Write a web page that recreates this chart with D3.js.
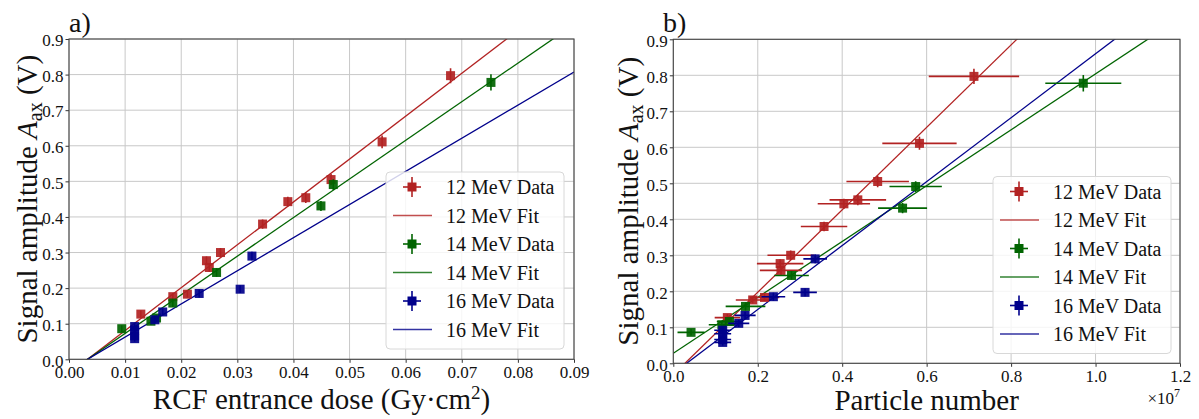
<!DOCTYPE html>
<html>
<head>
<meta charset="utf-8">
<script src="https://cdn.jsdelivr.net/npm/d3@7"></script>
<style>
  html, body { margin: 0; padding: 0; background: #fff; }
  svg { display: block; }
  svg text { font-family: "Liberation Serif", "DejaVu Serif", serif; }
</style>
</head>
<body>
<svg id="chart" width="1199" height="419"></svg>
<script>
// ---------- data ----------
const energies = ["12 MeV", "14 MeV", "16 MeV"];
const colors = ["#b22222", "#006400", "#00008b"];

// signal amplitude (V)
const amp12 = [0.127, 0.176, 0.183, 0.277, 0.258, 0.300, 0.380, 0.443, 0.454, 0.505, 0.611, 0.797];
const amp14 = [0.086, 0.107, 0.116, 0.158, 0.244, 0.431, 0.491, 0.778];
const amp16 = [0.092, 0.082, 0.066, 0.058, 0.111, 0.133, 0.185, 0.197, 0.290];
const ampErr12 = [0.010, 0.010, 0.010, 0.012, 0.012, 0.013, 0.013, 0.014, 0.015, 0.016, 0.018, 0.021];
const ampErr14 = [0.009, 0.010, 0.010, 0.011, 0.012, 0.014, 0.015, 0.023];
const ampErr16 = [0.009, 0.009, 0.009, 0.009, 0.010, 0.010, 0.011, 0.011, 0.012];

// RCF entrance dose (Gy cm^2)
const dose12 = [0.0128, 0.0185, 0.0211, 0.0245, 0.0250, 0.0270, 0.0345, 0.0390, 0.0422, 0.0467, 0.0558, 0.0680];
const dose14 = [0.0094, 0.0146, 0.0156, 0.0185, 0.0263, 0.0449, 0.0471, 0.0752];
const dose16 = [0.0117, 0.0117, 0.0117, 0.0117, 0.0153, 0.0167, 0.0232, 0.0305, 0.0326];

// particle number (x1e7) and its uncertainty
const part12 = [0.128, 0.188, 0.216, 0.253, 0.255, 0.278, 0.357, 0.404, 0.437, 0.484, 0.583, 0.712];
const part14 = [0.042, 0.115, 0.133, 0.171, 0.280, 0.543, 0.574, 0.971];
const part16 = [0.117, 0.117, 0.117, 0.117, 0.155, 0.170, 0.237, 0.312, 0.336];
const partErr12 = [0.030, 0.040, 0.035, 0.055, 0.050, 0.055, 0.055, 0.062, 0.067, 0.074, 0.088, 0.107];
const partErr14 = [0.032, 0.031, 0.030, 0.047, 0.041, 0.058, 0.062, 0.090];
const partErr16 = [0.020, 0.020, 0.020, 0.020, 0.025, 0.025, 0.028, 0.028, 0.028];

// linear fits: [slope, intercept]
const fitDose = [[12.05, -0.0398], [10.85, -0.0358], [9.31, -0.0307]];
const fitPart = [[1.145, -0.0317], [0.776, 0.028], [0.888, -0.0281]];

const doseTicks = [0, 0.01, 0.02, 0.03, 0.04, 0.05, 0.06, 0.07, 0.08, 0.09];
const partTicks = [0, 0.2, 0.4, 0.6, 0.8, 1.0, 1.2];
const ampTicks = [0, 0.1, 0.2, 0.3, 0.4, 0.5, 0.6, 0.7, 0.8, 0.9];

const legendLabels = ["12 MeV Data", "12 MeV Fit", "14 MeV Data", "14 MeV Fit", "16 MeV Data", "16 MeV Fit"];

const serif = '"Liberation Serif", "DejaVu Serif", serif';
const svg = d3.select("#chart");

const drawPanel = (p) => {
  const x = d3.scaleLinear().domain(p.xDomain).range([p.left, p.right]);
  const y = d3.scaleLinear().domain([0, 0.9]).range([p.bottom, p.top]);
  const g = svg.append("g");

  const clipId = "clip-" + p.name;
  svg.append("clipPath").attr("id", clipId)
    .append("rect")
      .attr("x", p.left).attr("y", p.top)
      .attr("width", p.right - p.left).attr("height", p.bottom - p.top);

  // grid
  g.append("g").selectAll("line").data(p.xTicks).join("line")
    .attr("x1", d => x(d)).attr("x2", d => x(d))
    .attr("y1", p.top).attr("y2", p.bottom)
    .attr("stroke", "#c8c8c8").attr("stroke-width", 1);
  g.append("g").selectAll("line").data(ampTicks).join("line")
    .attr("x1", p.left).attr("x2", p.right)
    .attr("y1", d => y(d)).attr("y2", d => y(d))
    .attr("stroke", "#c8c8c8").attr("stroke-width", 1);

  const plot = g.append("g").attr("clip-path", `url(#${clipId})`);

  // fit lines
  p.fits.forEach((f, i) => {
    const x0 = p.xDomain[0], x1 = p.xDomain[1];
    plot.append("line")
      .attr("x1", x(x0)).attr("y1", y(f[0] * x0 + f[1]))
      .attr("x2", x(x1)).attr("y2", y(f[0] * x1 + f[1]))
      .attr("stroke", colors[i]).attr("stroke-width", 1.3);
  });

  // data with error bars
  p.series.forEach((s, i) => {
    const pts = s.xs.map((xv, k) => ({ x: xv, y: s.ys[k], ye: s.yerr[k], xe: s.xerr ? s.xerr[k] : 0 }));
    const sg = plot.append("g");
    sg.selectAll(".xe").data(pts.filter(d => d.xe > 0)).join("line")
      .attr("x1", d => x(d.x - d.xe)).attr("x2", d => x(d.x + d.xe))
      .attr("y1", d => y(d.y)).attr("y2", d => y(d.y))
      .attr("stroke", colors[i]).attr("stroke-width", 1.6);
    sg.selectAll(".ye").data(pts).join("line")
      .attr("x1", d => x(d.x)).attr("x2", d => x(d.x))
      .attr("y1", d => y(d.y - d.ye)).attr("y2", d => y(d.y + d.ye))
      .attr("stroke", colors[i]).attr("stroke-width", 1.6);
    sg.selectAll("rect").data(pts).join("rect")
      .attr("x", d => x(d.x) - 4.5).attr("y", d => y(d.y) - 4.5)
      .attr("width", 9).attr("height", 9)
      .attr("fill", colors[i]).attr("fill-opacity", 0.92);
  });

  // axes
  const xAxis = d3.axisBottom(x).tickValues(p.xTicks).tickFormat(p.xFormat).tickSize(3.5).tickPadding(2);
  const yAxis = d3.axisLeft(y).tickValues(ampTicks).tickFormat(d3.format(".1f")).tickSize(3.5).tickPadding(2);
  const ax = g.append("g").attr("transform", `translate(0,${p.bottom})`).call(xAxis);
  const ay = g.append("g").attr("transform", `translate(${p.left},0)`).call(yAxis);
  [ax, ay].forEach(a => {
    a.attr("font-family", null);
    a.select(".domain").remove();
    a.selectAll("line").attr("stroke", "#333");
    a.selectAll("text").style("font-family", serif).attr("font-size", 17).attr("fill", "#111");
  });
  ax.selectAll("text").attr("dy", "0.8em");
  ay.selectAll("text").attr("dy", "0.4em");

  // frame
  g.append("rect")
    .attr("x", p.left).attr("y", p.top)
    .attr("width", p.right - p.left).attr("height", p.bottom - p.top)
    .attr("fill", "none").attr("stroke", "#444").attr("stroke-width", 1.1);

  // panel letter
  g.append("text").attr("x", p.letterX).attr("y", 32)
    .attr("font-size", 28).attr("fill", "#111").text(p.letter);

  // y label
  const yl = g.append("text")
    .attr("transform", `translate(${p.yLabelX},${(p.top + p.bottom) / 2}) rotate(-90)`)
    .attr("text-anchor", "middle").attr("font-size", 29).attr("fill", "#111");
  yl.append("tspan").text("Signal amplitude ");
  yl.append("tspan").attr("font-style", "italic").text("A");
  yl.append("tspan").attr("font-size", 20).attr("dy", 5).text("ax");
  yl.append("tspan").attr("dy", -5).text(" (V)");

  // x label
  const xl = g.append("text")
    .attr("x", (p.left + p.right) / 2).attr("y", p.xLabelY)
    .attr("text-anchor", "middle").attr("font-size", 29).attr("fill", "#111");
  p.xLabel(xl);

  // legend
  const lg = g.append("g").attr("transform", `translate(${p.legend[0]},${p.legend[1]})`);
  lg.append("rect").attr("width", 178).attr("height", 177).attr("rx", 4)
    .attr("fill", "#fff").attr("fill-opacity", 0.82)
    .attr("stroke", "#d8d8d8").attr("stroke-width", 1);
  legendLabels.forEach((lab, k) => {
    const ci = Math.floor(k / 2);
    const ry = 15 + k * 28.5;
    if (k % 2 === 0) {
      lg.append("line").attr("x1", 17).attr("x2", 35).attr("y1", ry).attr("y2", ry)
        .attr("stroke", colors[ci]).attr("stroke-width", 1.6);
      lg.append("line").attr("x1", 26).attr("x2", 26).attr("y1", ry - 10).attr("y2", ry + 10)
        .attr("stroke", colors[ci]).attr("stroke-width", 1.6);
      lg.append("rect").attr("x", 21.5).attr("y", ry - 4.5).attr("width", 9).attr("height", 9)
        .attr("fill", colors[ci]);
    } else {
      lg.append("line").attr("x1", 7).attr("x2", 46).attr("y1", ry).attr("y2", ry)
        .attr("stroke", colors[ci]).attr("stroke-width", 1.3).attr("stroke-opacity", 0.8);
    }
    lg.append("text").attr("x", 60).attr("y", ry).attr("dy", "0.35em")
      .attr("font-size", 20).attr("fill", "#111").text(lab);
  });
};

drawPanel({
  name: "a", letter: "a)", letterX: 69,
  left: 69, right: 574, top: 39, bottom: 359.3,
  xDomain: [0, 0.09], xTicks: doseTicks, xFormat: d3.format(".2f"),
  fits: fitDose,
  series: [
    { xs: dose12, ys: amp12, yerr: ampErr12 },
    { xs: dose14, ys: amp14, yerr: ampErr14 },
    { xs: dose16, ys: amp16, yerr: ampErr16 }
  ],
  yLabelX: 37, xLabelY: 409,
  xLabel: t => {
    t.append("tspan").text("RCF entrance dose (Gy\u00b7cm");
    t.append("tspan").attr("font-size", 19).attr("dy", -10).text("2");
    t.append("tspan").attr("dy", 10).text(")");
  },
  legend: [386, 172]
});

drawPanel({
  name: "b", letter: "b)", letterX: 663,
  left: 673.3, right: 1180, top: 39.3, bottom: 363.3,
  xDomain: [0, 1.2], xTicks: partTicks, xFormat: d3.format(".1f"),
  fits: fitPart,
  series: [
    { xs: part12, ys: amp12, yerr: ampErr12, xerr: partErr12 },
    { xs: part14, ys: amp14, yerr: ampErr14, xerr: partErr14 },
    { xs: part16, ys: amp16, yerr: ampErr16, xerr: partErr16 }
  ],
  yLabelX: 638, xLabelY: 410,
  xLabel: t => t.text("Particle number"),
  legend: [993, 176.5]
});

// offset text of panel b
const off = svg.append("text").attr("x", 1180).attr("y", 404)
  .attr("text-anchor", "end").attr("font-size", 17).attr("fill", "#111");
off.append("tspan").text("\u00d710");
off.append("tspan").attr("font-size", 12).attr("dy", -7).text("7");
</script>
</body>
</html>
